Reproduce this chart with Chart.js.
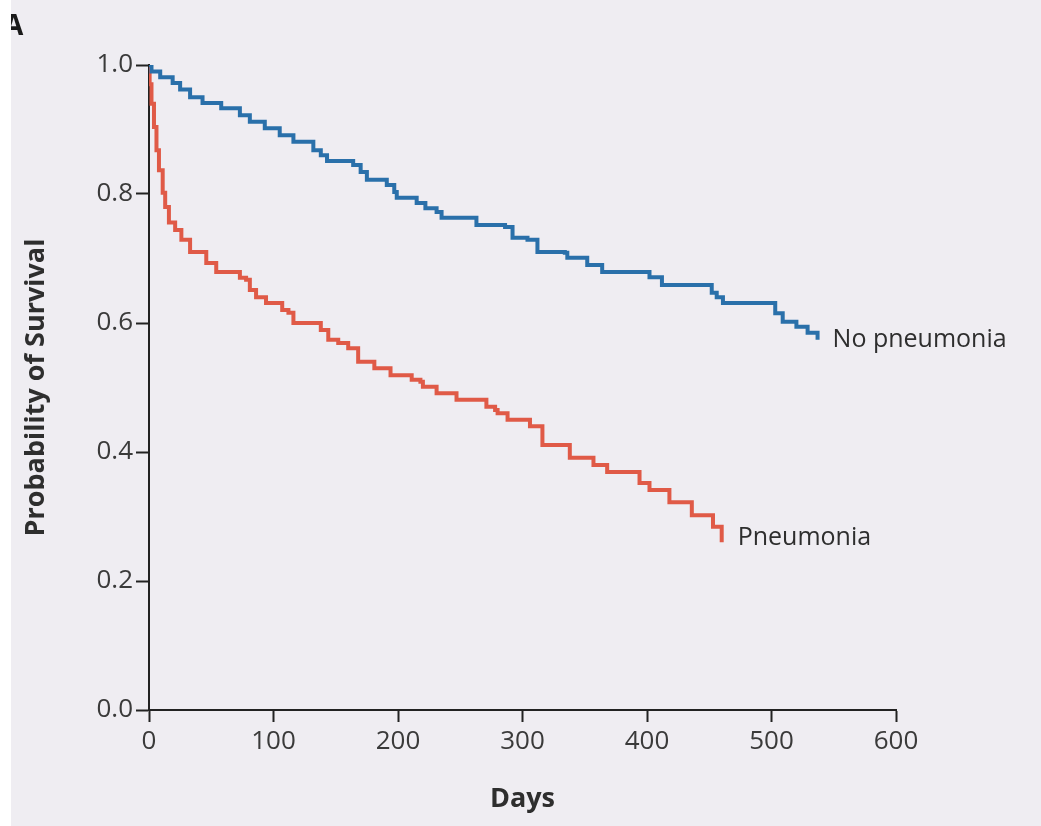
<!DOCTYPE html>
<html>
<head>
<meta charset="utf-8">
<script src="https://cdn.jsdelivr.net/npm/chart.js@4/dist/chart.umd.min.js"></script>
<style>
  html, body { margin: 0; padding: 0; background: #ffffff; }
  #wrap { width: 1041px; height: 826px; }
</style>
</head>
<body>
<div id="wrap"><canvas id="c" width="1041" height="826"></canvas></div>
<script>
// ---- Data ----
const noPneumoniaDays = [0, 2, 9, 19, 25, 33, 43, 58, 73, 81, 93, 105, 116, 132, 138, 143, 164, 170, 175, 191, 197, 199, 215, 222, 231, 235, 263, 286, 292, 304, 312, 334, 336, 352, 364, 402, 412, 452, 456, 461, 503, 509, 520, 529, 537];
const noPneumoniaSurv = [1.0, 0.99, 0.981, 0.972, 0.962, 0.950, 0.941, 0.933, 0.922, 0.912, 0.902, 0.891, 0.881, 0.868, 0.860, 0.851, 0.845, 0.834, 0.822, 0.814, 0.803, 0.794, 0.786, 0.778, 0.772, 0.763, 0.752, 0.749, 0.732, 0.729, 0.710, 0.709, 0.701, 0.690, 0.679, 0.671, 0.659, 0.647, 0.640, 0.631, 0.615, 0.602, 0.594, 0.585, 0.574];

const pneumoniaDays = [0, 0.5, 2, 4, 6, 8, 11, 13, 16, 21, 26, 33, 46, 54, 73, 78, 81, 86, 94, 107, 112, 116, 138, 144, 152, 160, 168, 181, 194, 211, 218, 220, 231, 247, 271, 278, 280, 288, 306, 316, 338, 357, 368, 394, 402, 418, 436, 453, 460];
const pneumoniaSurv = [1.0, 0.97, 0.94, 0.904, 0.868, 0.837, 0.802, 0.780, 0.756, 0.744, 0.729, 0.710, 0.693, 0.679, 0.670, 0.667, 0.651, 0.640, 0.631, 0.620, 0.616, 0.600, 0.589, 0.574, 0.569, 0.561, 0.540, 0.530, 0.519, 0.512, 0.509, 0.501, 0.491, 0.481, 0.470, 0.465, 0.460, 0.450, 0.440, 0.411, 0.391, 0.380, 0.369, 0.352, 0.341, 0.322, 0.302, 0.284, 0.260];

const seriesLabels = ['No pneumonia', 'Pneumonia'];
const xTicks = [0, 100, 200, 300, 400, 500, 600];
const yTicks = [0.0, 0.2, 0.4, 0.6, 0.8, 1.0];
const xTitle = 'Days';
const yTitle = 'Probability of Survival';
const panelLetter = 'A';

// ---- Styles ----
const BG = '#efedf2';
const BLUE = '#2a70aa';
const RED = '#e05a47';
const INK = '#2e2e2e';
const FONT = "'Open Sans', 'Noto Sans', sans-serif";

const toPts = (xs, ys) => xs.map((x, i) => ({ x: x, y: ys[i] }));

const bgPlugin = {
  id: 'bg',
  beforeDraw(chart) {
    const ctx = chart.ctx;
    ctx.save();
    ctx.fillStyle = BG;
    ctx.fillRect(0, 0, chart.width, chart.height);
    // panel letter, clipped by the white page margin
    ctx.fillStyle = '#1a1a1a';
    ctx.font = "bold 28px " + FONT;
    ctx.textBaseline = 'alphabetic';
    ctx.textAlign = 'left';
    ctx.fillText(panelLetter, 4, 35);
    ctx.fillStyle = '#ffffff';
    ctx.fillRect(0, 0, 11, chart.height);
    ctx.restore();
  }
};

const endLabelPlugin = {
  id: 'endLabels',
  afterDatasetsDraw(chart) {
    const ctx = chart.ctx;
    const xs = chart.scales.x, ys = chart.scales.y;
    ctx.save();
    ctx.font = "25px " + FONT;
    ctx.fillStyle = INK;
    ctx.textAlign = 'left';
    ctx.textBaseline = 'middle';
    const bLast = noPneumoniaDays.length - 1;
    ctx.fillText(seriesLabels[0], xs.getPixelForValue(noPneumoniaDays[bLast]) + 15, ys.getPixelForValue(noPneumoniaSurv[bLast]) + 0);
    const rLast = pneumoniaDays.length - 1;
    ctx.fillText(seriesLabels[1], xs.getPixelForValue(pneumoniaDays[rLast]) + 16, ys.getPixelForValue(pneumoniaSurv[rLast]) - 4);
    ctx.restore();
  }
};

new Chart(document.getElementById('c'), {
  type: 'line',
  data: {
    datasets: [
      {
        label: seriesLabels[0],
        data: toPts(noPneumoniaDays, noPneumoniaSurv),
        borderColor: BLUE,
        borderWidth: 4,
        stepped: 'before',
        pointRadius: 0,
        fill: false
      },
      {
        label: seriesLabels[1],
        data: toPts(pneumoniaDays, pneumoniaSurv),
        borderColor: RED,
        borderWidth: 4,
        stepped: 'before',
        pointRadius: 0,
        fill: false
      }
    ]
  },
  options: {
    responsive: false,
    animation: false,
    layout: { padding: { left: 0, right: 145, top: 65, bottom: 0 } },
    plugins: { legend: { display: false }, tooltip: { enabled: false } },
    scales: {
      x: {
        type: 'linear',
        min: 0, max: 600,
        afterBuildTicks(scale) { scale.ticks = xTicks.map(v => ({ value: v })); },
        afterFit(scale) { scale.height = 116; },
        border: { display: true, color: '#222', width: 2 },
        grid: { drawOnChartArea: false, drawTicks: true, tickLength: 12, tickColor: '#222', tickWidth: 2 },
        ticks: { color: '#3a3a3a', font: { family: FONT, size: 26 }, padding: 4, maxRotation: 0, callback: v => String(v) },
        title: { display: true, text: xTitle, color: INK, font: { family: FONT, size: 27, weight: 'bold' }, padding: { top: 0, bottom: 10 } }
      },
      y: {
        type: 'linear',
        min: 0, max: 1,
        afterBuildTicks(scale) { scale.ticks = yTicks.map(v => ({ value: v })); },
        afterFit(scale) { scale.width = 149; },
        border: { display: true, color: '#222', width: 2 },
        grid: { drawOnChartArea: false, drawTicks: true, tickLength: 13, tickColor: '#222', tickWidth: 2 },
        ticks: { color: '#3a3a3a', font: { family: FONT, size: 26 }, padding: 3, callback: v => Number(v).toFixed(1) },
        title: { display: true, text: yTitle, color: INK, font: { family: FONT, size: 27, weight: 'bold' }, padding: { top: 20, bottom: 0 } }
      }
    }
  },
  plugins: [bgPlugin, endLabelPlugin]
});
</script>
</body>
</html>
